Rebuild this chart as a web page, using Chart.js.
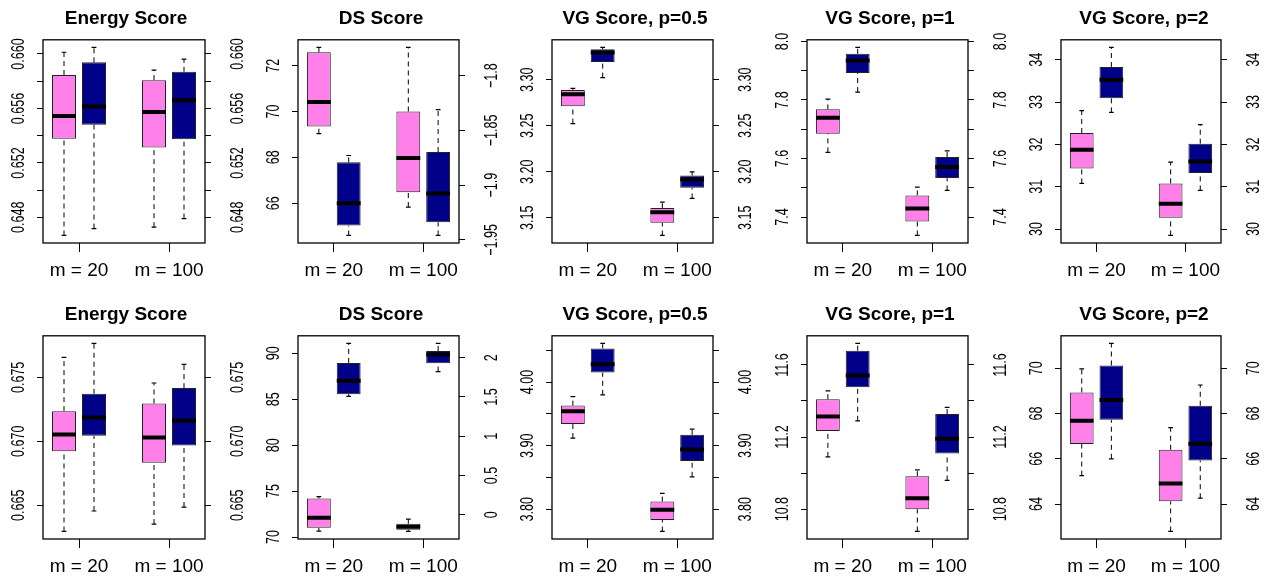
<!DOCTYPE html>
<html lang="en">
<head>
<meta charset="UTF-8">
<title>Score boxplots</title>
<script src="https://cdn.jsdelivr.net/npm/chart.js"></script>
<style>
  html, body { margin: 0; padding: 0; background: #fff; }
  body { width: 1264px; height: 578px; overflow: hidden; position: relative; }
  .panel { position: absolute; width: 252px; height: 289px; }
  canvas { display: block; }
</style>
</head>
<body>
<script>
// ---- data (five-number summaries: [lower whisker, Q1, median, Q3, upper whisker]), first row m = 20, second m = 100
const categories = ['m = 20', 'm = 100'];
const titles = ['Energy Score', 'DS Score', 'VG Score, p=0.5', 'VG Score, p=1', 'VG Score, p=2'];
const groupAt = [1.5, 4.5];
const pinkAt = [1, 4];
const navyAt = [2, 5];

// top row
const es1Pink = [[0.64667, 0.65378, 0.65545, 0.65845, 0.66013], [0.64728, 0.65314, 0.65574, 0.65808, 0.65882]];
const es1Navy = [[0.64718, 0.65481, 0.65614, 0.65939, 0.66049], [0.64791, 0.65373, 0.65661, 0.65869, 0.65963]];
const ds1Pink = [[69.03, 69.35, 70.41, 72.58, 72.80], [65.83, 66.48, 67.97, 70.00, 72.80]];
const ds1Navy = [[64.59, 65.02, 66.00, 67.78, 68.08], [64.59, 65.17, 66.42, 68.23, 70.08]];
const vh1Pink = [[3.2523, 3.2711, 3.2841, 3.2888, 3.2906], [3.1308, 3.1446, 3.1561, 3.1605, 3.1670]];
const vh1Navy = [[3.3022, 3.3192, 3.3296, 3.3329, 3.3351], [3.1710, 3.1825, 3.1916, 3.1959, 3.1999]];
const v11Pink = [[7.621, 7.685, 7.739, 7.768, 7.803], [7.337, 7.385, 7.429, 7.474, 7.502]];
const v11Navy = [[7.827, 7.892, 7.935, 7.958, 7.980], [7.491, 7.533, 7.571, 7.605, 7.626]];
const v21Pink = [[31.079, 31.433, 31.874, 32.268, 32.795], [29.850, 30.268, 30.598, 31.079, 31.583]];
const v21Navy = [[32.756, 33.087, 33.528, 33.827, 34.291], [30.913, 31.323, 31.598, 32.016, 32.465]];

// bottom row
const es2Pink = [[0.66296, 0.66923, 0.67054, 0.67236, 0.67657], [0.66354, 0.66832, 0.67030, 0.67296, 0.67456]];
const es2Navy = [[0.66456, 0.67043, 0.67187, 0.67372, 0.67766], [0.66487, 0.66967, 0.67163, 0.67416, 0.67602]];
const ds2Pink = [[70.65, 71.01, 72.10, 74.20, 74.41], [70.61, 70.80, 71.12, 71.45, 71.95]];
const ds2Navy = [[85.30, 85.55, 87.00, 88.95, 91.08], [88.01, 88.92, 89.86, 90.25, 91.08]];
const vh2Pink = [[3.912, 3.934, 3.954, 3.963, 3.977], [3.765, 3.783, 3.799, 3.812, 3.825]];
const vh2Navy = [[3.980, 4.015, 4.028, 4.053, 4.061], [3.851, 3.876, 3.894, 3.917, 3.926]];
const v12Pink = [[11.090, 11.234, 11.314, 11.410, 11.456], [10.676, 10.800, 10.861, 10.983, 11.018]];
const v12Navy = [[11.290, 11.476, 11.541, 11.679, 11.720], [10.959, 11.109, 11.191, 11.328, 11.365]];
const v22Pink = [[65.26, 66.65, 67.68, 68.93, 69.97], [62.79, 64.12, 64.91, 66.40, 67.38]];
const v22Navy = [[66.00, 67.72, 68.60, 70.12, 71.10], [64.26, 65.93, 66.66, 68.34, 69.26]];

// tick values and labels ('' = tick without label)
const es1Ticks = [0.648, 0.650, 0.652, 0.654, 0.656, 0.658, 0.660];
const es1Labels = ['0.648', '', '0.652', '', '0.656', '', '0.660'];
const ds1Ticks = [66, 68, 70, 72];
const ds1Labels = ['66', '68', '70', '72'];
const ds1RightTicks = [-1.95, -1.9, -1.85, -1.8];
const ds1RightLabels = ['−1.95', '−1.9', '−1.85', '−1.8'];
const ds1RightRange = [-1.9529, -1.7672];
const vh1Ticks = [3.15, 3.20, 3.25, 3.30];
const vh1Labels = ['3.15', '3.20', '3.25', '3.30'];
const v11Ticks = [7.4, 7.5, 7.6, 7.7, 7.8, 7.9, 8.0];
const v11Labels = ['7.4', '', '7.6', '', '7.8', '', '8.0'];
const v21Ticks = [30, 31, 32, 33, 34];
const v21Labels = ['30', '31', '32', '33', '34'];
const es2Ticks = [0.665, 0.670, 0.675];
const es2Labels = ['0.665', '0.670', '0.675'];
const ds2Ticks = [70, 75, 80, 85, 90];
const ds2Labels = ['70', '75', '80', '85', '90'];
const ds2RightTicks = [0, 0.5, 1, 1.5, 2];
const ds2RightLabels = ['0', '0.5', '1', '1.5', '2'];
const ds2RightRange = [-0.307, 2.278];
const vh2Ticks = [3.80, 3.85, 3.90, 3.95, 4.00, 4.05];
const vh2Labels = ['3.80', '', '3.90', '', '4.00', ''];
const v12Ticks = [10.8, 11.0, 11.2, 11.4, 11.6];
const v12Labels = ['10.8', '', '11.2', '', '11.6'];
const v22Ticks = [64, 66, 68, 70];
const v22Labels = ['64', '66', '68', '70'];

// ---- panel table built from the arrays above
const panels = [
  [es1Pink, es1Navy, es1Ticks, es1Labels],
  [ds1Pink, ds1Navy, ds1Ticks, ds1Labels, ds1RightTicks, ds1RightLabels, ds1RightRange],
  [vh1Pink, vh1Navy, vh1Ticks, vh1Labels],
  [v11Pink, v11Navy, v11Ticks, v11Labels],
  [v21Pink, v21Navy, v21Ticks, v21Labels],
  [es2Pink, es2Navy, es2Ticks, es2Labels],
  [ds2Pink, ds2Navy, ds2Ticks, ds2Labels, ds2RightTicks, ds2RightLabels, ds2RightRange],
  [vh2Pink, vh2Navy, vh2Ticks, vh2Labels],
  [v12Pink, v12Navy, v12Ticks, v12Labels],
  [v22Pink, v22Navy, v22Ticks, v22Labels]
];

const FONT = "'Liberation Sans', Arial, Helvetica, sans-serif";
const PINK = '#ff80e8';
const NAVY = '#000088';
const colLeft = [0, 255, 509, 764, 1018];
const plotW = [162, 161, 161, 161, 160];
const rowTop = [0, 296];

Chart.defaults.color = '#000';
Chart.defaults.font.family = FONT;

// R-style range: data range widened by 4% on each side
function rRange(groups) {
  const all = groups.flat(2);
  const lo = Math.min(...all), hi = Math.max(...all), pad = (hi - lo) * 0.04;
  return [lo - pad, hi + pad];
}

function boxSets(stats, at, color) {
  const gap = x => ({ x: x, y: null });
  return [
    {
      type: 'bar', order: 2,
      data: stats.map((s, k) => ({ x: at[k], y: [s[1], s[3]] })),
      backgroundColor: color, borderColor: '#222', borderWidth: 1, borderSkipped: false,
      grouped: false, barPercentage: 0.8, categoryPercentage: 1
    },
    { // whiskers
      type: 'line', order: 3,
      data: stats.flatMap((s, k) => [{ x: at[k], y: s[0] }, { x: at[k], y: s[1] }, gap(at[k]),
                                      { x: at[k], y: s[3] }, { x: at[k], y: s[4] }, gap(at[k])]),
      borderColor: '#000', borderWidth: 1, borderDash: [5, 4], pointRadius: 0
    },
    { // staples
      type: 'line', order: 1,
      data: stats.flatMap((s, k) => [{ x: at[k] - 0.08, y: s[0] }, { x: at[k] + 0.08, y: s[0] }, gap(at[k]),
                                      { x: at[k] - 0.08, y: s[4] }, { x: at[k] + 0.08, y: s[4] }, gap(at[k])]),
      borderColor: '#000', borderWidth: 1.2, pointRadius: 0
    },
    { // medians
      type: 'line', order: 0,
      data: stats.flatMap((s, k) => [{ x: at[k] - 0.4, y: s[2] }, { x: at[k] + 0.4, y: s[2] }, gap(at[k])]),
      borderColor: '#000', borderWidth: 4, borderCapStyle: 'butt', pointRadius: 0
    }
  ];
}

function yAxis(pos, range, ticks, width) {
  return {
    type: 'linear', position: pos, min: range[0], max: range[1],
    afterBuildTicks: s => { s.ticks = ticks.map(v => ({ value: v })); },
    afterFit: s => { s.width = width; },
    ticks: { display: false },
    grid: { drawOnChartArea: false, drawTicks: true, tickLength: 6, color: '#000', lineWidth: 1 },
    border: { display: false }
  };
}

panels.forEach((p, i) => {
  const [pink, navy, ticks, labels] = p;
  const rTicks = p[4] || ticks, rLabels = p[5] || labels;
  const row = Math.floor(i / 5), col = i % 5;
  const range = rRange([pink, navy]);
  const rightRange = p[6] || range;
  const rightW = 252 - 43 - plotW[col];

  const div = document.createElement('div');
  div.className = 'panel';
  div.style.left = colLeft[col] + 'px';
  div.style.top = rowTop[row] + 'px';
  const cv = document.createElement('canvas');
  cv.width = 252; cv.height = 289;
  div.appendChild(cv);
  document.body.appendChild(div);

  // box around the plot region
  const frame = {
    id: 'frame',
    afterDatasetsDraw(chart) {
      const { ctx, chartArea: a } = chart;
      ctx.save();
      ctx.strokeStyle = '#000';
      ctx.lineWidth = 1.3;
      ctx.strokeRect(a.left, a.top, a.right - a.left, a.bottom - a.top);
      ctx.restore();
    }
  };

  // y tick labels, parallel to the axis (read bottom to top)
  const rotLabels = {
    id: 'rotLabels',
    afterDraw(chart) {
      const { ctx, chartArea: a } = chart;
      const sides = [
        { scale: chart.scales.y, ticks: ticks, labels: labels, x: a.left - 19.5 },
        { scale: chart.scales.y2, ticks: rTicks, labels: rLabels, x: a.right + 38 }
      ];
      ctx.save();
      ctx.fillStyle = '#000';
      ctx.font = '18.5px ' + FONT;
      ctx.textAlign = 'center';
      ctx.textBaseline = 'alphabetic';
      sides.forEach(sd => {
        sd.ticks.forEach((v, k) => {
          if (!sd.labels[k]) return;
          const y = sd.scale.getPixelForValue(v);
          ctx.save();
          ctx.translate(sd.x, y);
          ctx.rotate(-Math.PI / 2);
          ctx.scale(0.68, 1);
          ctx.fillText(sd.labels[k], 0, 0);
          ctx.restore();
        });
      });
      ctx.restore();
    }
  };

  new Chart(cv, {
    type: 'bar',
    data: { datasets: [...boxSets(pink, pinkAt, PINK), ...boxSets(navy, navyAt, NAVY)] },
    options: {
      responsive: false,
      animation: false,
      events: [],
      layout: { padding: 0 },
      plugins: {
        legend: { display: false },
        tooltip: { enabled: false },
        title: {
          display: true, text: titles[col], color: '#000',
          font: { size: 19, weight: 'bold', family: FONT },
          padding: { top: 7, bottom: 10 }
        }
      },
      scales: {
        x: {
          type: 'linear', min: 0.3, max: 5.7, offset: false,
          afterBuildTicks: s => { s.ticks = groupAt.map(v => ({ value: v })); },
          afterFit: s => { s.height = 46; },
          ticks: {
            callback: (v, k) => categories[k],
            font: { size: 19, family: FONT }, color: '#000',
            padding: 7, autoSkip: false, maxRotation: 0
          },
          grid: { offset: false, drawOnChartArea: false, drawTicks: true, tickLength: 9, color: '#000', lineWidth: 1 },
          border: { display: false }
        },
        y: yAxis('left', range, ticks, 43),
        y2: yAxis('right', rightRange, rTicks, rightW)
      }
    },
    plugins: [frame, rotLabels]
  });
});
</script>
</body>
</html>
